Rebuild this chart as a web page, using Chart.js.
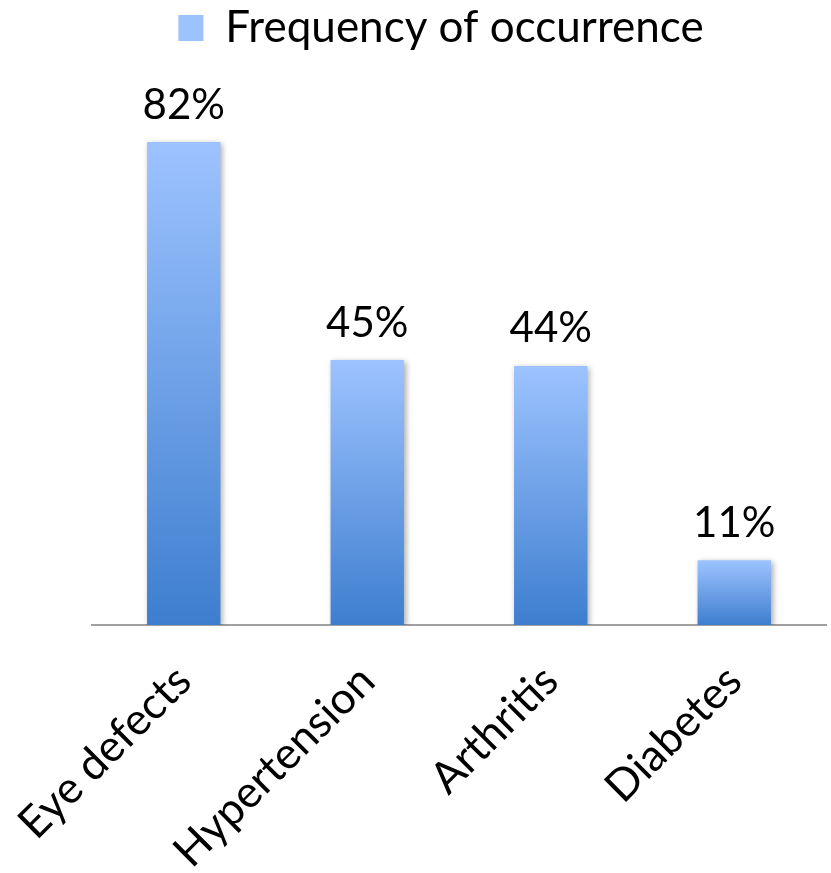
<!DOCTYPE html>
<html>
<head>
<meta charset="utf-8">
<script src="https://cdn.jsdelivr.net/npm/chart.js@4.4.1/dist/chart.umd.min.js"></script>
<style>
  html, body { margin: 0; padding: 0; background: #ffffff; }
  #wrap { width: 831px; height: 873px; }
</style>
</head>
<body>
<div id="wrap"><canvas id="c" width="831" height="873"></canvas></div>
<script>
const categories = ["Eye defects", "Hypertension", "Arthritis", "Diabetes"];
const seriesName = "Frequency of occurrence";
const values = [82, 45, 44, 11];

const TOP_COLOR = "#9DC3FF";
const BOTTOM_COLOR = "#3E7ECF";
const FONT = "Lato, 'Open Sans', sans-serif";

function barGradient(ctx) {
  const chart = ctx.chart;
  const y = chart.scales && chart.scales.y;
  if (!y || ctx.dataIndex === undefined || !ctx.parsed) {
    // legend swatch
    const g = chart.ctx.createLinearGradient(0, 15, 0, 42);
    g.addColorStop(0, TOP_COLOR);
    g.addColorStop(1, BOTTOM_COLOR);
    return g;
  }
  const top = y.getPixelForValue(ctx.parsed.y);
  const bottom = y.getPixelForValue(0);
  if (!isFinite(top) || !isFinite(bottom) || top === bottom) return "#6C9FE8";
  const g = chart.ctx.createLinearGradient(0, top, 0, bottom);
  g.addColorStop(0, TOP_COLOR);
  g.addColorStop(1, BOTTOM_COLOR);
  return g;
}

const legendTweaks = {
  id: "legendTweaks",
  beforeInit(chart) {
    const lg = chart.legend;
    if (!lg) return;
    const origFit = lg.fit;
    lg.fit = function () {
      origFit.call(this);
      this.height = 95;
    };
  },
  afterLayout(chart) {
    const lg = chart.legend;
    if (!lg) return;
    lg.left -= 18;
    lg.right -= 18;
  }
};

const shadowPlugin = {
  id: "barShadow",
  beforeDatasetsDraw(chart) {
    const c = chart.ctx;
    c.save();
    c.shadowColor = "rgba(0,0,0,0.35)";
    c.shadowBlur = 6;
    c.shadowOffsetX = 2;
    c.shadowOffsetY = 2;
  },
  afterDatasetsDraw(chart) {
    chart.ctx.restore();
  }
};

const valueLabels = {
  id: "valueLabels",
  afterDatasetsDraw(chart) {
    const c = chart.ctx;
    const meta = chart.getDatasetMeta(0);
    c.save();
    c.fillStyle = "#000000";
    c.font = "42px " + FONT;
    c.textAlign = "center";
    c.textBaseline = "bottom";
    meta.data.forEach((bar, i) => {
      c.fillText(values[i] + "%", bar.x, bar.y - 16);
    });
    c.restore();
  }
};

new Chart(document.getElementById("c"), {
  type: "bar",
  data: {
    labels: categories,
    datasets: [{
      label: seriesName,
      data: values,
      backgroundColor: barGradient,
      borderWidth: 0,
      barPercentage: 0.4,
      categoryPercentage: 1.0
    }]
  },
  options: {
    responsive: false,
    animation: false,
    devicePixelRatio: 1,
    layout: { padding: { left: 92, right: 5, top: 0, bottom: 0 } },
    plugins: {
      legend: {
        display: true,
        position: "top",
        labels: {
          color: "#000000",
          font: { family: FONT, size: 44 },
          boxWidth: 25,
          boxHeight: 26,
          padding: 6
        }
      },
      tooltip: { enabled: false }
    },
    scales: {
      x: {
        afterFit(scale) {
          scale.height = 248;
          scale.paddingLeft = 0;
          scale.paddingRight = 0;
        },
        grid: { display: false, drawTicks: false },
        border: { display: true, color: "#A0A0A0", width: 2 },
        ticks: {
          color: "#000000",
          font: { family: FONT, size: 44 },
          minRotation: 45,
          maxRotation: 45,
          labelOffset: 0,
          padding: 30
        }
      },
      y: {
        display: false,
        min: 0,
        max: 90
      }
    }
  },
  plugins: [legendTweaks, shadowPlugin, valueLabels]
});
</script>
</body>
</html>
